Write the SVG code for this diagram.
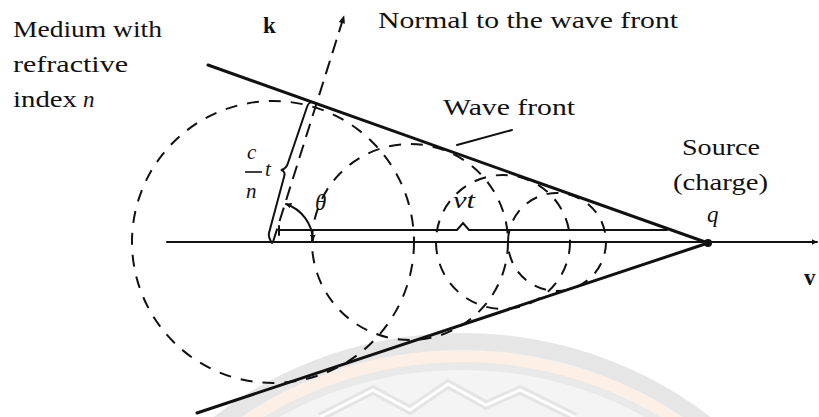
<svg xmlns="http://www.w3.org/2000/svg" width="819" height="417" viewBox="0 0 819 417">
  <style>
    .t { font-family: "Liberation Serif", "DejaVu Serif", serif; font-size: 23px; fill: #111; }
    .it { font-style: italic; }
    .bd { font-weight: bold; }
    .sm { font-size: 21px; }
    .solid { stroke: #111; fill: none; stroke-linecap: round; }
    .wave { stroke: #111; fill: none; stroke-width: 2; stroke-dasharray: 12 10; }
  </style>
  <defs>
    <marker id="ah" viewBox="0 0 10 10" refX="9" refY="5" markerWidth="6" markerHeight="6" orient="auto-start-reverse" markerUnits="userSpaceOnUse">
      <path d="M0,0 L10,5 L0,10 Z" fill="#111"/>
    </marker>
    <marker id="ahs" viewBox="0 0 10 10" refX="9" refY="5" markerWidth="9" markerHeight="8" orient="auto-start-reverse" markerUnits="userSpaceOnUse">
      <path d="M0,1 L10,5 L0,9 Z" fill="#111"/>
    </marker>
  </defs>
  <rect width="819" height="417" fill="#ffffff"/>

  <g id="watermark">
    <ellipse cx="462" cy="700" rx="390" ry="367" fill="#e6e6e6"/>
    <ellipse cx="462" cy="700" rx="375" ry="350" fill="#fcf0e6"/>
    <ellipse cx="462" cy="700" rx="363" ry="338" fill="#e9e9e9"/>
    <ellipse cx="462" cy="700" rx="355" ry="330" fill="#f4f4f4"/>
    <path d="M320,417 L373,390 L410,410 L448,384 L486,405 L520,390 L575,417" fill="none" stroke="#e4e4e4" stroke-width="9"/>
    <path d="M320,417 L373,390 L410,410 L448,384 L486,405 L520,390 L575,417" fill="none" stroke="#ffffff" stroke-width="3"/>
  </g>

  <g id="wavelets">
    <circle id="wavelet1" class="wave" cx="273" cy="242" r="141"/>
    <circle id="wavelet2" class="wave" cx="410" cy="242" r="98"/>
    <circle id="wavelet3" class="wave" cx="503" cy="242" r="67"/>
    <circle id="wavelet4" class="wave" cx="557" cy="242" r="49"/>
  </g>

  <g id="connectors">
    <line id="wavefront-upper" class="solid" x1="208" y1="65" x2="708" y2="243" stroke-width="3"/>
    <line id="wavefront-lower" class="solid" x1="197" y1="413" x2="708" y2="243" stroke-width="3"/>
    <line id="axis" class="solid" x1="167" y1="242" x2="817" y2="242" stroke-width="2" marker-end="url(#ah)"/>
    <line id="k-normal" x1="273" y1="242" x2="344" y2="16" stroke="#111" stroke-width="2" stroke-dasharray="14 8" marker-end="url(#ahs)"/>
    <path id="vt-brace" class="solid" stroke-width="2" d="M280,230 L457,230 L463,223 L469,230 L667,230 M279,226 L279,235"/>
    <path id="cnt-brace" class="solid" stroke-width="2" d="M313,102 C309,102 308,104 307,107 L288,163 C287,167 285,169 281,170 C285,171 285,174 284,177 L269,233 C268,237 270,240 272,243"/>
    <path id="theta-arc" class="solid" stroke-width="2" d="M313,240 A40,40 0 0 0 286,204" marker-start="url(#ah)" marker-end="url(#ah)"/>
    <line id="wavefront-leader" class="solid" x1="512" y1="130" x2="457" y2="145" stroke-width="2"/>
    <circle id="source-dot" cx="708" cy="243" r="4" fill="#111"/>
  </g>

  <g id="label-medium">
    <text class="t" x="13" y="37" textLength="149" lengthAdjust="spacingAndGlyphs">Medium with</text>
    <text class="t" x="13" y="72" textLength="115" lengthAdjust="spacingAndGlyphs">refractive</text>
    <text class="t" x="13" y="107" textLength="64" lengthAdjust="spacingAndGlyphs">index</text>
    <text class="t it" x="83" y="107">n</text>
  </g>
  <g id="label-k"><text class="t bd" x="263" y="33">k</text></g>
  <g id="label-normal"><text class="t" x="378" y="28" textLength="300" lengthAdjust="spacingAndGlyphs">Normal to the wave front</text></g>
  <g id="label-wavefront"><text class="t" x="443" y="115" textLength="132" lengthAdjust="spacingAndGlyphs">Wave front</text></g>
  <g id="label-source">
    <text class="t" x="682" y="155" textLength="78" lengthAdjust="spacingAndGlyphs">Source</text>
    <text class="t" x="673" y="190" textLength="95" lengthAdjust="spacingAndGlyphs">(charge)</text>
    <text class="t it" x="707" y="222">q</text>
  </g>
  <g id="label-v"><text class="t bd" x="804" y="285">v</text></g>
  <g id="label-cnt">
    <text class="t it sm" x="247" y="159">c</text>
    <line x1="245" y1="172" x2="262" y2="172" stroke="#111" stroke-width="1.6"/>
    <text class="t it sm" x="246" y="198">n</text>
    <text class="t it sm" x="265" y="176">t</text>
  </g>
  <g id="label-theta"><text class="t it" x="315" y="210">θ</text></g>
  <g id="label-vt"><text class="t it" x="453" y="208" textLength="22" lengthAdjust="spacingAndGlyphs">vt</text></g>
</svg>
